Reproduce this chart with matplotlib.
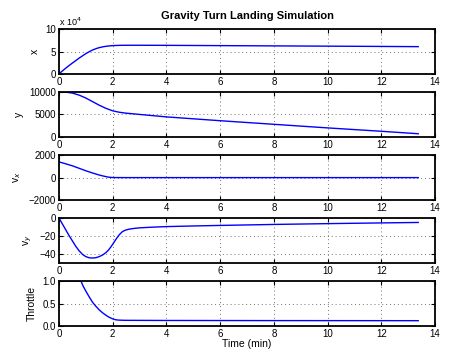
import matplotlib
matplotlib.use("Agg")
import matplotlib.pyplot as plt
from matplotlib.ticker import FuncFormatter

plt.rcParams['font.family'] = ['Liberation Sans', 'DejaVu Sans']

# valeurs (temps en minutes)
t_x = [0, 0.1, 0.25, 0.4, 0.5, 0.65, 0.75, 0.9, 1.0, 1.15, 1.25, 1.4, 1.5, 1.65, 1.75, 1.9, 2.0, 2.25, 2.5, 3, 4, 6, 8, 10, 12, 13.37]
pos_x = [0, 5500, 13000, 20000, 24500, 31000, 35500, 41500, 45500, 50500, 53500, 57000, 58800, 60800, 61800, 62800, 63300, 63900, 64100, 64100, 63900, 63300, 62700, 62100, 61500, 61000]

t_y = [0, 0.25, 0.5, 0.75, 1.0, 1.25, 1.5, 1.75, 2.0, 2.25, 2.5, 3, 4, 6, 8, 10, 12, 13.37]
pos_y = [10000, 9950, 9750, 9300, 8650, 7850, 7050, 6350, 5800, 5480, 5280, 5000, 4450, 3600, 2800, 2000, 1250, 700]

t_vx = [0, 0.25, 0.5, 0.75, 1.0, 1.25, 1.5, 1.65, 1.8, 1.9, 2.0, 2.5, 4, 8, 13.37]
vel_x = [1400, 1230, 1050, 830, 610, 410, 230, 140, 60, 25, 5, 0, 0, 0, 0]

t_vy = [0, 0.125, 0.25, 0.375, 0.5, 0.625, 0.75, 0.875, 1.0, 1.125, 1.25, 1.375, 1.5, 1.625, 1.75, 1.85, 1.95, 2.05, 2.15, 2.25, 2.35, 2.45, 2.6, 2.8, 3, 3.5, 4, 5, 6, 8, 10, 12, 13.37]
vel_y = [0, -6.5, -13, -19.5, -25.5, -31.5, -36.5, -40.5, -43, -44.3, -44.6, -44.2, -43, -41.2, -38.5, -35.5, -31.5, -27, -22.5, -18.5, -15.5, -13.8, -12.5, -11.6, -11, -10.2, -9.6, -8.9, -8.3, -7.2, -6.3, -5.5, -5]

t_thr = [0, 0.5, 0.82, 0.9, 1.0, 1.125, 1.25, 1.375, 1.5, 1.625, 1.75, 1.875, 2.0, 2.1, 2.2, 2.35, 2.5, 4, 8, 13.37]
throttle = [1, 1, 1, 0.89, 0.78, 0.65, 0.53, 0.44, 0.36, 0.295, 0.24, 0.195, 0.16, 0.142, 0.134, 0.13, 0.128, 0.125, 0.122, 0.12]

series = [(t_x, pos_x, 'x', (0, 100000), [0, 50000, 100000]),
          (t_y, pos_y, 'y', (0, 10000), [0, 5000, 10000]),
          (t_vx, vel_x, r'v$_x$', (-2000, 2000), [-2000, 0, 2000]),
          (t_vy, vel_y, r'v$_y$', (-50, 0), [-40, -20, 0]),
          (t_thr, throttle, 'Throttle', (0, 1), [0, 0.5, 1])]

fig = plt.figure(figsize=(4.5, 3.51), dpi=100)
left, width, h = 0.131, 0.836, 0.128
bottoms = [0.789, 0.610, 0.430, 0.251, 0.071]

for i, (tt, vals, lab, lim, ticks) in enumerate(series):
    ax = fig.add_axes([left, bottoms[i], width, h])
    ax.plot(tt, vals, color='blue', lw=1.0)
    ax.set_xlim(0, 14)
    ax.set_ylim(*lim)
    ax.set_xticks(range(0, 15, 2))
    ax.set_yticks(ticks)
    ax.set_ylabel(lab, fontsize=7.5)
    ax.grid(True, linestyle=(0, (1, 3)), color='0.45', lw=0.7)
    ax.tick_params(direction='in', top=True, right=True, length=3, labelsize=7, pad=2)
    for s in ax.spines.values():
        s.set_linewidth(1.3)
    if i == 0:
        ax.yaxis.set_major_formatter(FuncFormatter(lambda v, p: f"{v / 1e4:g}"))
        ax.text(0.0, 1.03, r'x 10$^4$', transform=ax.transAxes, fontsize=6.5, va='bottom')
        ax.set_title('Gravity Turn Landing Simulation', fontsize=8, fontweight='bold', pad=7)

ax.set_xlabel('Time (min)', fontsize=7.5, labelpad=0)

fig.savefig('out.png', dpi=100)
